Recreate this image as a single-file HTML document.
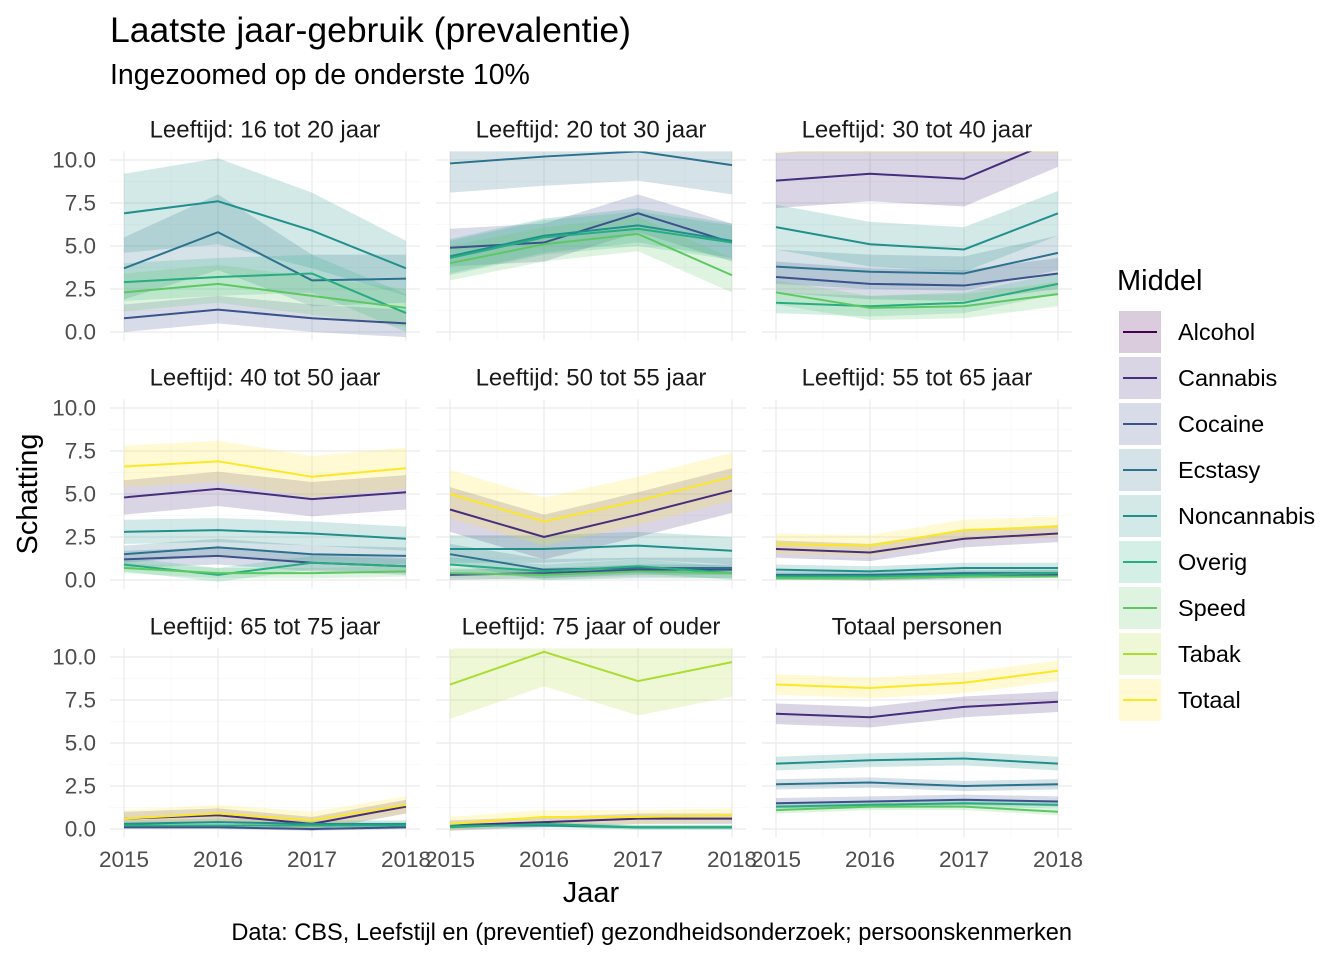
<!DOCTYPE html>
<html><head><meta charset="utf-8"><style>
body{margin:0;background:#fff;}
svg text{font-family:"Liberation Sans",sans-serif;}
</style></head><body>
<svg id="s" width="1344" height="960" xmlns="http://www.w3.org/2000/svg"></svg>
<script>
const s=document.getElementById('s');
const cols={Alcohol:'#440154',Cannabis:'#472D7B',Cocaine:'#3B528B',Ecstasy:'#2C728E',Noncannabis:'#21908C',Overig:'#27AD81',Speed:'#5DC863',Tabak:'#AADC32',Totaal:'#FDE725'};
const names=Object.keys(cols);
let h='';
h+='<text x="110" y="42" style="font-size:35.5px" fill="#000">Laatste jaar-gebruik (prevalentie)</text>';
h+='<text x="110" y="84" style="font-size:28.5px" fill="#000">Ingezoomed op de onderste 10%</text>';
const X0=[124,450,776], Y0=[332,580,829], px=94, py=17.2;
const titles=['Leeftijd: 16 tot 20 jaar','Leeftijd: 20 tot 30 jaar','Leeftijd: 30 tot 40 jaar','Leeftijd: 40 tot 50 jaar','Leeftijd: 50 tot 55 jaar','Leeftijd: 55 tot 65 jaar','Leeftijd: 65 tot 75 jaar','Leeftijd: 75 jaar of ouder','Totaal personen'];
const D=[
 {Tabak:[[20,20,20,20],3],Totaal:[[25,25,25,25],3],Cannabis:[[15,15,15,15],2],Noncannabis:[[6.9,7.6,5.9,3.7],[2.3,2.5,2.2,1.6]],Ecstasy:[[3.7,5.8,3.0,3.1],[1.8,2.2,1.5,1.4]],Overig:[[2.9,3.2,3.4,1.1],1.1],Speed:[[2.3,2.8,2.1,1.4],1.1],Cocaine:[[0.8,1.3,0.8,0.5],0.8]},
 {Totaal:[[25,25,25,25],3],Ecstasy:[[9.8,10.2,10.5,9.7],1.7],Cocaine:[[4.9,5.2,6.9,5.2],1.1],Overig:[[4.3,5.5,6.0,5.2],1],Noncannabis:[[4.4,5.6,6.2,5.3],1],Speed:[[4.0,5.1,5.7,3.3],1]},
 {Totaal:[[13,13,13,13],2.6],Cannabis:[[8.8,9.2,8.9,11.2],1.6],Noncannabis:[[6.1,5.1,4.8,6.9],1.3],Ecstasy:[[3.8,3.5,3.4,4.6],1],Cocaine:[[3.2,2.8,2.7,3.4],0.9],Speed:[[2.3,1.4,1.5,2.2],0.7],Overig:[[1.7,1.5,1.7,2.8],0.6]},
 {Totaal:[[6.6,6.9,6.0,6.5],1.2],Cannabis:[[4.8,5.3,4.7,5.1],1],Noncannabis:[[2.8,2.9,2.7,2.4],0.7],Ecstasy:[[1.5,1.9,1.5,1.4],0.5],Cocaine:[[1.2,1.4,1.0,0.8],0.5],Overig:[[0.9,0.3,1.0,0.8],0.4],Speed:[[0.7,0.4,0.4,0.5],0.3]},
 {Totaal:[[5.0,3.4,4.6,6.0],1.4],Cannabis:[[4.1,2.5,3.8,5.2],1.3],Noncannabis:[[1.8,1.8,2.0,1.7],0.8],Ecstasy:[[1.5,0.6,0.7,0.7],0.6],Overig:[[0.9,0.5,0.8,0.4],0.4],Cocaine:[[0.3,0.4,0.6,0.6],0.3],Speed:[[0.4,0.3,0.5,0.4],0.3]},
 {Totaal:[[2.1,2.0,2.9,3.1],0.6],Cannabis:[[1.8,1.6,2.4,2.7],0.5],Noncannabis:[[0.6,0.5,0.7,0.7],0.3],Ecstasy:[[0.3,0.3,0.4,0.4],0.2],Overig:[[0.2,0.2,0.3,0.4],0.2],Cocaine:[[0.2,0.1,0.2,0.3],0.15],Speed:[[0.1,0.1,0.2,0.2],0.1]},
 {Totaal:[[0.6,0.9,0.5,1.4],0.5],Cannabis:[[0.6,0.8,0.3,1.3],0.4],Noncannabis:[[0.3,0.4,0.3,0.3],0.2],Overig:[[0.2,0.2,0.2,0.2],0.15],Cocaine:[[0.1,0.1,0.0,0.1],0.1]},
 {Tabak:[[8.4,10.3,8.6,9.7],2],Totaal:[[0.3,0.7,0.7,0.8],0.4],Cannabis:[[0.2,0.4,0.6,0.6],0.3],Overig:[[0.1,0.3,0.1,0.1],0.15],Noncannabis:[[0.2,0.2,0.1,0.1],0.1]},
 {Totaal:[[8.4,8.2,8.5,9.2],0.6],Cannabis:[[6.7,6.5,7.1,7.4],0.6],Noncannabis:[[3.8,4.0,4.1,3.8],0.4],Ecstasy:[[2.6,2.7,2.5,2.6],0.3],Cocaine:[[1.5,1.6,1.7,1.6],0.3],Overig:[[1.3,1.4,1.5,1.4],0.2],Speed:[[1.1,1.3,1.3,1.0],0.2]}
];
for(let p=0;p<9;p++){
 const c=p%3,r=Math.floor(p/3),x0=X0[c],y0=Y0[r];
 const L=x0-14,R=x0+3*px+14,T=y0-10.5*py,B=y0+0.5*py;
 h+=`<clipPath id="c${p}"><rect x="${L}" y="${T}" width="${R-L}" height="${B-T}"/></clipPath>`;
 for(let v=1.25;v<10.5;v+=2.5){h+=`<line x1="${L}" x2="${R}" y1="${y0-v*py}" y2="${y0-v*py}" stroke="#f4f4f4" stroke-width="0.6"/>`;}
 for(let i=0;i<3;i++){const xx=x0+(i+0.5)*px;h+=`<line x1="${xx}" x2="${xx}" y1="${T}" y2="${B}" stroke="#f4f4f4" stroke-width="0.6"/>`;}
 for(let v=0;v<=10;v+=2.5){h+=`<line x1="${L}" x2="${R}" y1="${y0-v*py}" y2="${y0-v*py}" stroke="#ebebeb" stroke-width="1.2"/>`;}
 for(let i=0;i<4;i++){const xx=x0+i*px;h+=`<line x1="${xx}" x2="${xx}" y1="${T}" y2="${B}" stroke="#ebebeb" stroke-width="1.2"/>`;}
 h+=`<text x="${x0+1.5*px}" y="${T-14}" style="font-size:24px" text-anchor="middle" fill="#1a1a1a">${titles[p]}</text>`;
 if(c==0){['0.0','2.5','5.0','7.5','10.0'].forEach((t,i)=>{h+=`<text x="96" y="${y0-i*2.5*py+7.5}" style="font-size:22.5px" text-anchor="end" fill="#4d4d4d">${t}</text>`;});}
 if(r==2){['2015','2016','2017','2018'].forEach((t,i)=>{h+=`<text x="${x0+i*px}" y="867" style="font-size:22.5px" text-anchor="middle" fill="#4d4d4d">${t}</text>`;});}
 let g=`<g clip-path="url(#c${p})">`,ln='';
 const d=D[p];
 names.forEach(n=>{if(!d[n])return;const [v,e]=d[n];const ee=Array.isArray(e)?e:[e,e,e,e];
  const up=v.map((y,i)=>`${x0+i*px},${y0-(y+ee[i])*py}`),lo=v.map((y,i)=>`${x0+i*px},${y0-Math.max(y-ee[i],-0.5)*py}`).reverse();
  g+=`<polygon points="${up.concat(lo).join(' ')}" fill="${cols[n]}" fill-opacity="0.2"/>`;
  ln+=`<polyline points="${v.map((y,i)=>`${x0+i*px},${y0-y*py}`).join(' ')}" fill="none" stroke="${cols[n]}" stroke-width="2"/>`;
 });
 h+=g+ln+'</g>';
}
h+='<text x="591" y="902" style="font-size:29px" text-anchor="middle" fill="#000">Jaar</text>';
h+='<text transform="translate(37,494) rotate(-90)" style="font-size:29px" text-anchor="middle" fill="#000">Schatting</text>';
h+='<text x="1072" y="940" style="font-size:23.6px" text-anchor="end" fill="#000">Data: CBS, Leefstijl en (preventief) gezondheidsonderzoek; persoonskenmerken</text>';
h+='<text x="1117" y="290" style="font-size:29px" fill="#000">Middel</text>';
names.forEach((n,i)=>{const y=311+i*46;
 h+=`<rect x="1119" y="${y}" width="42" height="42" fill="${cols[n]}" fill-opacity="0.2"/>`;
 h+=`<line x1="1123" x2="1157" y1="${y+21}" y2="${y+21}" stroke="${cols[n]}" stroke-width="2"/>`;
 h+=`<text x="1178" y="${y+29}" style="font-size:23.5px" fill="#000">${n}</text>`;});
s.innerHTML=h;
</script>
</body></html>
